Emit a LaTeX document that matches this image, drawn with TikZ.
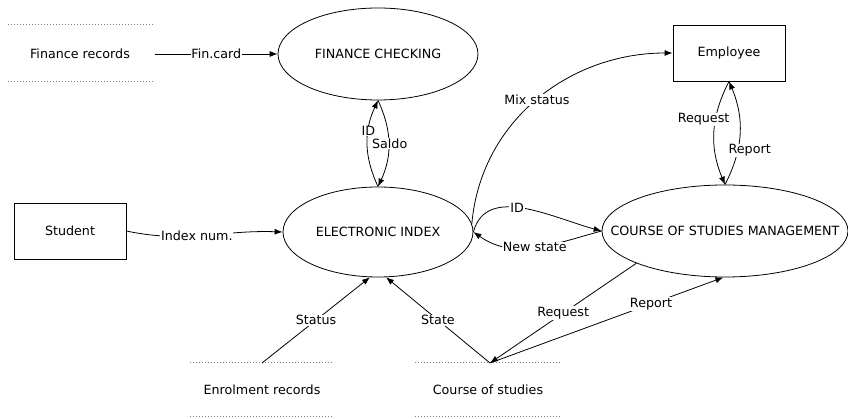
\documentclass[tikz,border=0pt]{standalone}
\usepackage{fontspec}
\setmainfont{DejaVu Sans}
\usetikzlibrary{shapes.geometric,arrows.meta}
\begin{document}
\begin{tikzpicture}[x=1pt,y=1pt,
  font=\fontsize{12.7}{14}\selectfont,
  line width=0.8pt,
  proc/.style={draw,ellipse,inner sep=0pt},
  ent/.style={draw,rectangle,minimum width=112pt,minimum height=56pt,inner sep=0pt},
  store/.style={inner sep=0pt},
  flow/.style={draw,-{Latex[length=8pt,width=6pt]}},
  lbl/.style={fill=white,inner sep=0.8pt},
  dots/.style={gray,dotted,line width=1pt}
]
\useasboundingbox (0,0) rectangle (848,419);
% processes
\node[proc,minimum width=200pt,minimum height=92pt] (fc) at (378,365) {};
\node (fct) at (fc.center) {FINANCE CHECKING};
\node[proc,minimum width=190pt,minimum height=90pt] (ei) at (378,187) {};
\node (eit) at (ei.center) {ELECTRONIC INDEX};
\node[proc,minimum width=246pt,minimum height=92pt] (csm) at (725,188) {};
\node (csmt) at (csm.center) {COURSE OF STUDIES MANAGEMENT};
% entities
\node[ent] (emp) at (729,366) {Employee};
\node[ent] (stu) at (70,188) {Student};
% data stores
\node[store] (fr) at (80,365) {Finance records};
\draw[dots] (8,394) -- (155,394);
\draw[dots] (8,337) -- (155,337);
\coordinate (frout) at (155,365);
\node[store] (er) at (262,29) {Enrolment records};
\draw[dots] (190,56) -- (333,56);
\draw[dots] (190,2) -- (333,2);
\coordinate (erout) at (262,56);
\node[store] (cs) at (488,29) {Course of studies};
\draw[dots] (415,56) -- (560,56);
\draw[dots] (415,2) -- (560,2);
\coordinate (csio) at (490,56);
% flows
\draw[flow] (frout) -- node[lbl]{Fin.card} (fc.west);
\draw[flow] (stu.east) to[out=-12,in=178] node[lbl,pos=0.45]{Index num.} (ei.west);
\draw[flow] (ei.north) to[bend left=25] node[lbl,pos=0.65,inner sep=0.3pt]{ID} (fc.south);
\draw[flow] (fc.south) to[bend left=25] node[lbl,pos=0.5,inner sep=0.2pt,xshift=1pt]{Saldo} (ei.north);
\draw[flow] (ei.5) to[out=85,in=180] node[lbl,pos=0.5]{Mix status} (emp.west);
\draw[flow] (ei.east) to[out=75,in=165] node[lbl,pos=0.45]{ID} (csm.west);
\draw[flow] (csm.west) to[out=195,in=-35] node[lbl,pos=0.5]{New state} (ei.east);
\draw[flow] (emp.south) to[bend right=25] node[lbl,pos=0.37,xshift=-12pt]{Request} (csm.north);
\draw[flow] (csm.north) to[bend right=25] node[lbl,pos=0.33,xshift=12pt]{Report} (emp.south);
\draw[flow] (erout) -- node[lbl]{Status} (ei.-100);
\draw[flow] (csio) -- node[lbl]{State} (ei.-80);
\draw[flow] (csm.200) -- node[lbl,pos=0.5]{Request} (csio);
\draw[flow] (csio) -- node[lbl,pos=0.69]{Report} (csm.-92);
\end{tikzpicture}
\end{document}
